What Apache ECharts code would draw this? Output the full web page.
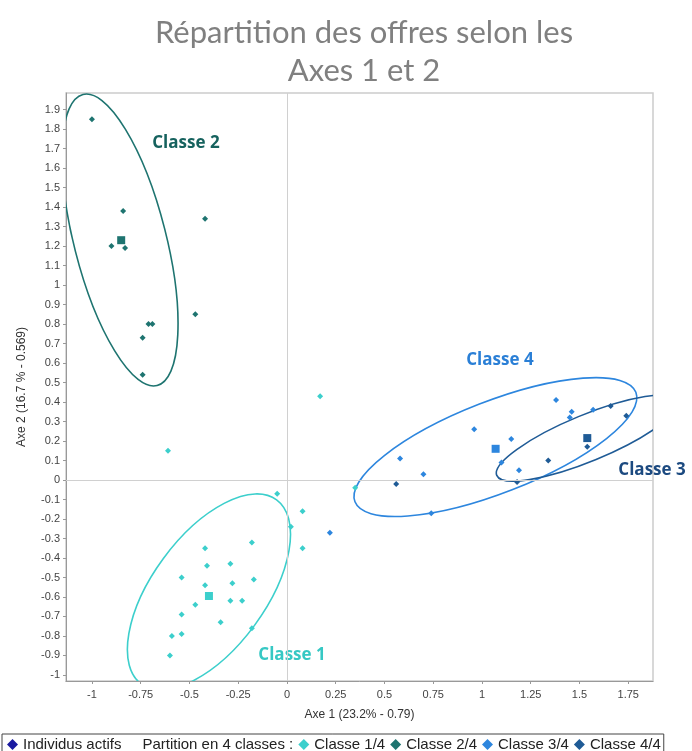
<!DOCTYPE html>
<html>
<head>
<meta charset="utf-8">
<title>Répartition des offres selon les Axes 1 et 2</title>
<script src="https://cdn.jsdelivr.net/npm/echarts@6/dist/echarts.min.js"></script>
<style>
	html, body { margin: 0; padding: 0; background: #fff; }
	#chart { width: 692px; height: 751px; }
</style>
</head>
<body>
<div id="chart"></div>
<script>
	// tick labels
	const xTicks = [-1, -0.75, -0.5, -0.25, 0, 0.25, 0.5, 0.75, 1, 1.25, 1.5, 1.75];
	const yTicks = [-1, -0.9, -0.8, -0.7, -0.6, -0.5, -0.4, -0.3, -0.2, -0.1, 0, 0.1, 0.2, 0.3, 0.4,
		0.5, 0.6, 0.7, 0.8, 0.9, 1, 1.1, 1.2, 1.3, 1.4, 1.5, 1.6, 1.7, 1.8, 1.9];

	// individus par classe [axe1, axe2]
	const classe1 = [[-0.61, 0.15], [-0.05, -0.07], [0.08, -0.16], [0.02, -0.24], [0.08, -0.35],
		[-0.18, -0.32], [-0.42, -0.35], [-0.41, -0.44], [-0.29, -0.43], [-0.54, -0.5], [-0.42, -0.54],
		[-0.28, -0.53], [-0.17, -0.51], [-0.47, -0.64], [-0.29, -0.62], [-0.23, -0.62], [-0.54, -0.69],
		[-0.34, -0.73], [-0.59, -0.8], [-0.54, -0.79], [-0.18, -0.76], [-0.6, -0.9], [0.17, 0.43],
		[0.35, -0.04]];
	const classe2 = [[-1.0, 1.85], [-0.84, 1.38], [-0.9, 1.2], [-0.83, 1.19], [-0.42, 1.34],
		[-0.47, 0.85], [-0.71, 0.8], [-0.69, 0.8], [-0.74, 0.73], [-0.74, 0.54]];
	const classe3 = [[0.58, 0.11], [0.7, 0.03], [0.74, -0.17], [0.96, 0.26], [1.15, 0.21], [1.1, 0.09],
		[1.19, 0.05], [1.38, 0.41], [1.46, 0.35], [1.45, 0.32], [1.57, 0.36], [0.22, -0.27]];
	const classe4 = [[0.56, -0.02], [1.18, -0.01], [1.34, 0.1], [1.66, 0.38], [1.74, 0.33], [1.54, 0.17]];

	// centres de classe
	const centres = [[-0.4, -0.595], [-0.85, 1.23], [1.07, 0.16], [1.54, 0.215]];

	// ellipses [centre x, centre y, demi-grand axe, demi-petit axe, angle en degrés]
	const ellipses = [
		[-0.4, -0.574, 0.586, 0.29, 53.7],
		[-0.856, 1.231, 0.77, 0.236, -75.7],
		[1.069, 0.169, 0.773, 0.235, 21.3],
		[1.54, 0.215, 0.502, 0.119, 22.4]
	];

	// étiquettes posées sur le graphe
	const annotNames = ["Classe 1", "Classe 2", "Classe 3", "Classe 4"];
	const annotPos = [[0.026, -0.897], [-0.518, 1.728], [1.872, 0.051], [1.092, 0.615]];

	const classNames = ["Classe 1/4", "Classe 2/4", "Classe 3/4", "Classe 4/4"];
	const colorArr = ["#3ccfcc", "#1e7470", "#2d86de", "#1f5b96"];
	const annotColors = ["#36c8c4", "#16625e", "#1c4a80", "#2a7fd6"];
	const pointsArr = [classe1, classe2, classe3, classe4];

	const axisFont = "'Liberation Sans', Arial, sans-serif";

	function ellipseItem(params, api) {
		const c = api.coord([api.value(0), api.value(1)]);
		const s = api.size([1, 1]);
		const a = api.value(2) * s[0];
		const b = api.value(3) * s[0];
		const t = api.value(4) * Math.PI / 180;
		const dx = a * Math.cos(t), dy = -a * Math.sin(t);
		const rot = -api.value(4);
		const p1 = [c[0] + dx, c[1] + dy], p2 = [c[0] - dx, c[1] - dy];
		const d = "M" + p1[0] + " " + p1[1] +
			" A" + a + " " + b + " " + rot + " 1 0 " + p2[0] + " " + p2[1] +
			" A" + a + " " + b + " " + rot + " 1 0 " + p1[0] + " " + p1[1] + " Z";
		const cs = params.coordSys;
		return {
			type: "path",
			shape: { pathData: d },
			style: { fill: null, stroke: api.visual("color"), lineWidth: 1.6 },
			clipPath: { type: "rect", shape: { x: cs.x, y: cs.y, width: cs.width, height: cs.height } }
		};
	}

	const series = [];
	// lignes zéro + étiquettes
	series.push({
		name: "annot",
		type: "scatter",
		symbolSize: 0,
		silent: true,
		itemStyle: { opacity: 1 },
		data: annotNames.map((n, i) => ({
			name: n,
			value: annotPos[i],
			label: { color: annotColors[i] }
		})),
		label: {
			show: true,
			position: "inside",
			formatter: "{b}",
			fontFamily: "'Open Sans', sans-serif",
			fontWeight: "bold",
			fontSize: 17
		},
		markLine: {
			silent: true,
			symbol: "none",
			label: { show: false },
			lineStyle: { color: "#d0d0d0", width: 1, type: "solid" },
			data: [{ xAxis: 0 }, { yAxis: 0 }]
		},
		z: 1
	});
	series.push({ name: "Individus actifs", type: "scatter", data: [], itemStyle: { color: "#1a1aa0", opacity: 1 } });
	series.push({ name: "Partition en 4 classes :", type: "scatter", data: [], itemStyle: { color: "#fff" } });
	classNames.forEach((n, i) => {
		series.push({
			name: n,
			type: "scatter",
			symbol: "diamond",
			symbolSize: 6,
			data: pointsArr[i],
			itemStyle: { color: colorArr[i], opacity: 1 },
			z: 3
		});
		series.push({
			name: "centre" + (i + 1),
			type: "scatter",
			symbol: "rect",
			symbolSize: 8,
			data: [centres[i]],
			itemStyle: { color: colorArr[i], opacity: 1 },
			z: 3
		});
		series.push({
			name: "ellipse" + (i + 1),
			type: "custom",
			renderItem: ellipseItem,
			data: [ellipses[i]],
			encode: { x: 0, y: 1 },
			itemStyle: { color: colorArr[i] },
			silent: true,
			z: 2
		});
	});

	const myChart = echarts.init(document.getElementById("chart"));
	const option = {
		backgroundColor: "#fff",
		animation: false,
		title: {
			text: "Répartition des offres selon les\nAxes 1 et 2",
			left: 359,
			textAlign: "center",
			top: 9,
			textStyle: {
				fontFamily: "Lato, 'Open Sans', sans-serif",
				fontWeight: "normal",
				fontSize: 31,
				lineHeight: 38,
				color: "#808080"
			}
		},
		grid: {
			left: 66,
			right: 39,
			top: 93,
			bottom: 70,
			show: true,
			borderColor: "#cccccc",
			borderWidth: 1.5,
			outerBoundsMode: "none"
		},
		legend: {
			left: 2,
			top: 734,
			itemWidth: 11,
			itemHeight: 11,
			itemGap: 5,
			padding: [3, 3, 3, 5],
			borderColor: "#444",
			borderWidth: 1,
			textStyle: { fontFamily: axisFont, fontSize: 15, color: "#222" },
			data: [
				{ name: "Individus actifs", icon: "diamond" },
				{ name: "Partition en 4 classes :", icon: "none" },
				{ name: "Classe 1/4", icon: "diamond" },
				{ name: "Classe 2/4", icon: "diamond" },
				{ name: "Classe 3/4", icon: "diamond" },
				{ name: "Classe 4/4", icon: "diamond" }
			],
			selectedMode: false
		},
		xAxis: {
			type: "value",
			min: -1.133,
			max: 1.877,
			name: "Axe 1 (23.2% - 0.79)",
			nameLocation: "middle",
			nameGap: 28,
			nameTextStyle: { fontFamily: axisFont, fontSize: 12, color: "#333" },
			axisLine: { show: true, onZero: false, lineStyle: { color: "#999" } },
			axisTick: { show: true, length: 3, customValues: xTicks, lineStyle: { color: "#999" } },
			axisLabel: {
				customValues: xTicks,
				formatter: (v) => String(+(+v).toFixed(2)),
				fontFamily: axisFont,
				fontSize: 11,
				color: "#444",
				margin: 8
			},
			splitLine: { show: false }
		},
		yAxis: {
			type: "value",
			min: -1.031,
			max: 1.985,
			name: "Axe 2 (16.7 % - 0.569)",
			nameLocation: "middle",
			nameRotate: 90,
			nameGap: 38,
			nameTextStyle: { fontFamily: axisFont, fontSize: 12, color: "#333" },
			axisLine: { show: true, onZero: false, lineStyle: { color: "#999" } },
			axisTick: { show: true, length: 3, customValues: yTicks, lineStyle: { color: "#999" } },
			axisLabel: {
				customValues: yTicks,
				formatter: (v) => String(+(+v).toFixed(2)),
				fontFamily: axisFont,
				fontSize: 11,
				color: "#444",
				margin: 6
			},
			splitLine: { show: false }
		},
		series: series
	};
	myChart.setOption(option);
</script>
</body>
</html>
